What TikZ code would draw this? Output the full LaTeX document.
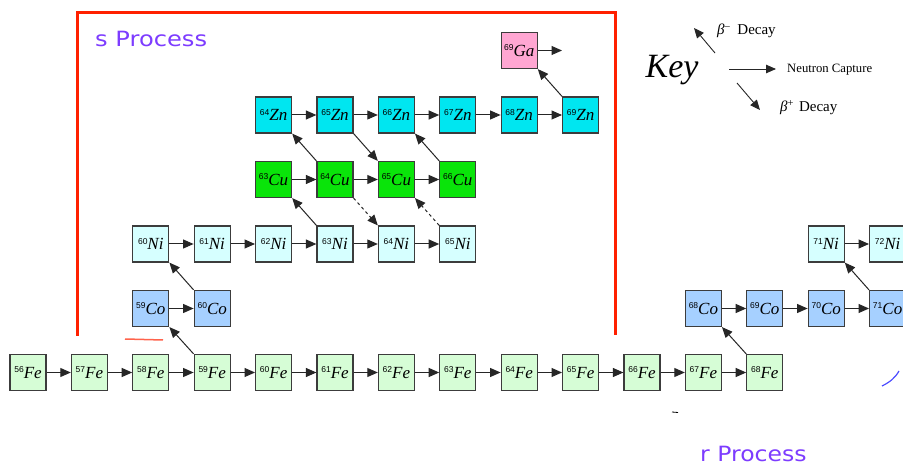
\documentclass[tikz,border=0pt]{standalone}
\usepackage{fontspec}
\setmainfont{Liberation Serif}
\setsansfont{Liberation Sans}
\newfontfamily\procfont{DejaVu Sans}
\usetikzlibrary{arrows.meta}
\definecolor{feC}{RGB}{214,253,214}
\definecolor{coC}{RGB}{166,208,255}
\definecolor{niC}{RGB}{214,255,255}
\definecolor{cuC}{RGB}{10,228,10}
\definecolor{znC}{RGB}{0,230,240}
\definecolor{gaC}{RGB}{255,166,210}
\definecolor{frameC}{RGB}{255,32,0}
\definecolor{procC}{RGB}{125,60,255}
\definecolor{edgeC}{RGB}{60,60,60}
\newcommand\isot[2]{\raisebox{5.5pt}{\fontsize{8.5}{9}\sffamily #1}\textit{#2}}
\tikzset{
  iso/.style={draw=edgeC, line width=1.2pt, minimum size=36pt, inner sep=0pt,
    font=\fontsize{17}{17}\selectfont},
  fe/.style={iso, fill=feC},
  co/.style={iso, fill=coC},
  ni/.style={iso, fill=niC},
  cu/.style={iso, fill=cuC},
  zn/.style={iso, fill=znC},
  ga/.style={iso, fill=gaC},
  arr/.style={draw=black!85, line width=1pt, -{Triangle[length=10.5pt,width=9pt]}},
  darr/.style={arr, dashed},
  karr/.style={draw=black!85, line width=0.9pt, -{Triangle[length=10pt,width=8.5pt]}},
  lbl/.style={anchor=west, inner sep=0pt, font=\fontsize{12.7}{13}\selectfont},
  dlbl/.style={anchor=west, inner sep=0pt, font=\fontsize{15}{15}\selectfont},
}
\begin{document}
\begin{tikzpicture}[x=1pt,y=-1pt]
\useasboundingbox[fill=white] (0,0) rectangle (903,465);
% s process frame
\draw[frameC, line width=3pt] (77.5,336) -- (77.5,12.5) -- (615,12.5) -- (615,335);
\draw[frameC!70, line width=1.5pt] (125,339) -- (163,340);
\node[anchor=base west, inner sep=0pt, text=procC, font=\procfont\fontsize{21}{21}\selectfont] (sp) at (95,47) {\scalebox{1.15}[1]{s Process}};
\node[anchor=base west, inner sep=0pt, text=procC, font=\procfont\fontsize{21}{21}\selectfont] (rp) at (700,461) {\scalebox{1.12}[1]{r Process}};
% rows
\foreach \m in {56,...,68} \node[fe] (fe\m) at ({28+61.4*(\m-56)},372.5) {\isot{\m}{Fe}};
\foreach \m in {59,60,68,69,70,71} \node[co] (co\m) at ({28+61.4*(\m-57)},308.5) {\isot{\m}{Co}};
\foreach \m in {60,...,65,71,72} \node[ni] (ni\m) at ({28+61.4*(\m-58)},244) {\isot{\m}{Ni}};
\foreach \m in {63,...,66} \node[cu] (cu\m) at ({28+61.4*(\m-59)},179.5) {\isot{\m}{Cu}};
\foreach \m in {64,...,69} \node[zn] (zn\m) at ({28+61.4*(\m-60)},115) {\isot{\m}{Zn}};
\node[ga] (ga69) at ({28+61.4*8},50.5) {\isot{69}{Ga}};
% neutron captures
\foreach \a/\b in {56/57,57/58,58/59,59/60,60/61,61/62,62/63,63/64,64/65,65/66,66/67,67/68}
  \draw[arr] (fe\a.east) -- (fe\b.west);
\draw[arr] (co59.east) -- (co60.west);
\foreach \a/\b in {68/69,69/70,70/71} \draw[arr] (co\a.east) -- (co\b.west);
\foreach \a/\b in {60/61,61/62,62/63,63/64,64/65,71/72} \draw[arr] (ni\a.east) -- (ni\b.west);
\foreach \a/\b in {63/64,64/65,65/66} \draw[arr] (cu\a.east) -- (cu\b.west);
\foreach \a/\b in {64/65,65/66,66/67,67/68,68/69} \draw[arr] (zn\a.east) -- (zn\b.west);
\coordinate (gaout) at (562,50.5);
\draw[arr] (ga69.east) -- (gaout);
% beta decays
\draw[arr] (fe59.north west) -- (co59.south east);
\draw[arr] (co60.north west) -- (ni60.south east);
\draw[arr] (ni63.north west) -- (cu63.south east);
\draw[arr] (cu64.north west) -- (zn64.south east);
\draw[arr] (cu66.north west) -- (zn66.south east);
\draw[arr] (zn69.north west) -- (ga69.south east);
\draw[arr] (fe68.north west) -- (co68.south east);
\draw[arr] (co71.north west) -- (ni71.south east);
\draw[arr] (zn65.south east) -- (cu65.north west);
\draw[darr] (cu64.south east) -- (ni64.north west);
\draw[darr] (ni65.north west) -- (cu65.south east);
% key
\node[inner sep=0pt, font=\fontsize{34}{34}\selectfont\itshape] (key) at (672,70) {Key};
\coordinate (k1a) at (715,53); \coordinate (k1b) at (694,28);
\coordinate (k2a) at (729,69); \coordinate (k2b) at (776,69);
\coordinate (k3a) at (737,83); \coordinate (k3b) at (760,110);
\draw[karr] (k1a) -- (k1b);
\draw[karr] (k2a) -- (k2b);
\draw[karr] (k3a) -- (k3b);
\node[dlbl] (l1) at (717,31) {\textit{β}\textsuperscript{–}\hspace{7pt}Decay};
\node[lbl] (l2) at (787,70) {Neutron Capture};
\node[dlbl] (l3) at (780,108) {\textit{β}\textsuperscript{+}\hspace{5pt}Decay};
% small artefacts
\draw[blue!70, line width=1.2pt] (882,386) .. controls (890,382) and (895,378) .. (899,371);
\draw[black, line width=0.8pt] (672,412) -- (678,412.5);
\end{tikzpicture}
\end{document}
